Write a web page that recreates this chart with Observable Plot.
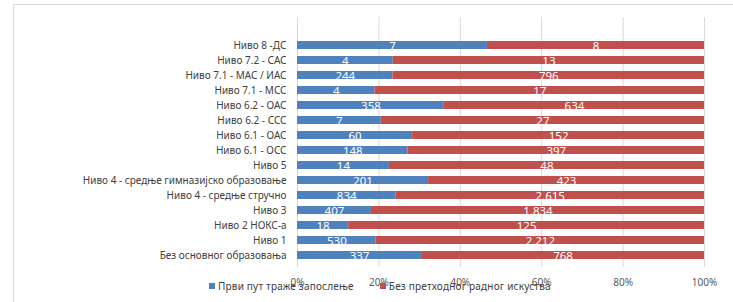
<!DOCTYPE html>
<html>
<head>
<meta charset="utf-8">
<script src="https://cdn.jsdelivr.net/npm/d3@7"></script>
<script src="https://cdn.jsdelivr.net/npm/@observablehq/plot@0.6"></script>
<style>
  html, body { margin: 0; padding: 0; background: #fff; }
  #wrap { position: relative; width: 733px; height: 302px; overflow: hidden; font-family: "Noto Sans", sans-serif; }
  #frame { position: absolute; left: 13px; top: 4px; width: 800px; height: 400px; border-left: 1px solid #d9d9d9; border-top: 1px solid #d9d9d9; box-sizing: border-box; }
  #chart { position: absolute; left: 0; top: 0; }
  #legend { position: absolute; top: 279px; left: 209px; display: flex; align-items: center; font-size: 10px; color: #404040; white-space: nowrap; letter-spacing: 0.2px; }
  .item { display: flex; align-items: center; margin-right: 26px; }
  .sw { width: 6px; height: 6px; margin-right: 3px; }
</style>
</head>
<body>
<div id="wrap">
  <div id="frame"></div>
  <div id="chart"></div>
  <div id="legend"></div>
</div>
<script>
const categories = [
  "Ниво 8 -ДС",
  "Ниво 7.2 - САС",
  "Ниво 7.1 - МАС / ИАС",
  "Ниво 7.1 - МСС",
  "Ниво 6.2 - ОАС",
  "Ниво 6.2 - ССС",
  "Ниво 6.1 - ОАС",
  "Ниво 6.1 - ОСС",
  "Ниво 5",
  "Ниво 4 - средње гимназијско образовање",
  "Ниво 4 - средње стручно",
  "Ниво 3",
  "Ниво 2 НОКС-а",
  "Ниво 1",
  "Без основног образовања"
];
const seriesNames = ["Први пут траже запослење", "Без претходног радног искуства"];
const firstTime = [7, 4, 244, 4, 358, 7, 60, 148, 14, 201, 834, 407, 18, 530, 337];
const noExperience = [8, 13, 796, 17, 634, 27, 152, 397, 48, 423, 2615, 1834, 125, 2212, 768];
const colors = ["#4F81BD", "#C0504D"];
const xTicks = [0, 0.2, 0.4, 0.6, 0.8, 1];

const data = [];
categories.forEach((c, i) => {
  data.push({cat: c, series: seriesNames[0], value: firstTime[i]});
  data.push({cat: c, series: seriesNames[1], value: noExperience[i]});
});

const fmt = v => d3.format(",")(v).replace(/,/g, ".");
const stackOpts = {offset: "normalize", x: "value", y: "cat", z: "series", order: seriesNames};

const chart = Plot.plot({
  width: 733,
  height: 302,
  marginLeft: 297,
  marginRight: 29,
  marginTop: 17,
  marginBottom: 35,
  style: {fontFamily: "Noto Sans, sans-serif", fontSize: "10px", color: "#404040", background: "transparent"},
  x: {domain: [0, 1], ticks: xTicks, tickFormat: d3.format(".0%"), label: null},
  y: {domain: categories, padding: 0.46, insetTop: 15.625, label: null},
  color: {domain: seriesNames, range: colors},
  marks: [
    Plot.gridX(xTicks, {stroke: "#d9d9d9", strokeOpacity: 1}),
    Plot.barX(data, Plot.stackX({...stackOpts, fill: "series"})),
    Plot.textX(data, Plot.stackX({...stackOpts, text: d => fmt(d.value), fill: "white", fontSize: 11.5, dy: 1})),
    Plot.axisX({ticks: xTicks, tickFormat: d3.format(".0%"), tickSize: 0, tickPadding: 11, fill: "#595959", label: null}),
    Plot.axisY({tickSize: 0, tickPadding: 11, fill: "#404040", label: null, fontSize: 10})
  ]
});
document.getElementById("chart").appendChild(chart);

const legend = document.getElementById("legend");
seriesNames.forEach((s, i) => {
  const it = document.createElement("div");
  it.className = "item";
  const sw = document.createElement("div");
  sw.className = "sw";
  sw.style.background = colors[i];
  const t = document.createElement("span");
  t.textContent = s;
  it.appendChild(sw);
  it.appendChild(t);
  legend.appendChild(it);
});
</script>
</body>
</html>
